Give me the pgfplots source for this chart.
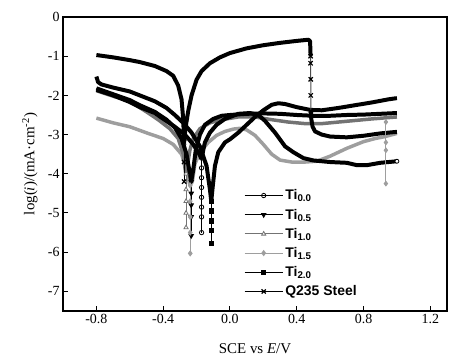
\documentclass[border=0pt]{standalone}
\usepackage{fontspec}
\setmainfont{Liberation Serif}
\newfontfamily\arialfont{Liberation Sans}
\usepackage{pgfplots}
\pgfplotsset{compat=1.18}
\definecolor{tten}{gray}{0.45}
\definecolor{tfif}{gray}{0.62}
\begin{document}
\begin{tikzpicture}
\begin{axis}[
  scale only axis, width=384bp, height=294bp,
  xmin=-1, xmax=1.3, ymin=-7.5, ymax=0,
  xtick={-0.8,-0.4,0,0.4,0.8,1.2},
  ytick={-7,-6,-5,-4,-3,-2,-1,0},
  xticklabel style={/pgf/number format/.cd,fixed,fixed zerofill,precision=1},
  /pgf/number format/assume math mode=true,
  tick align=inside, xtick pos=bottom, ytick pos=left,
  major tick length=5bp,
  tick style={line width=1pt, black},
  axis line style={line width=1.2pt},
  ticklabel style={font=\fontsize{14}{16}\selectfont},
  label style={font=\fontsize{15}{17}\selectfont},
  xlabel={SCE vs \textit{E}/V},
  ylabel={log(\textit{i})/(mA·cm\textsuperscript{-2})},
  xlabel style={at={(axis description cs:0.5,-0.129)}, anchor=center},
  ylabel style={at={(axis description cs:-0.086,0.5)}, anchor=center},
  legend image code/.code={\draw[mark repeat=2,mark phase=2,#1] plot coordinates {(0bp,0bp) (19bp,0bp) (38bp,0bp)};},
  legend style={draw=none, fill=none, at={(axis cs:0.065,-4.3)}, anchor=north west,
    font=\arialfont\bfseries\fontsize{14}{16}\selectfont, row sep=3.6bp},
  legend cell align=left,
]
% ---------- main thick curves ----------
% Ti1.5 (light gray)
\addplot[forget plot, tfif, line width=3.5pt, line join=round] coordinates {
(-0.8,-2.58) (-0.7,-2.7) (-0.6,-2.8) (-0.49,-2.97) (-0.4,-3.1) (-0.34,-3.25) (-0.29,-3.5) (-0.26,-3.9) (-0.24,-4.3)
(-0.225,-4.2) (-0.21,-3.75) (-0.18,-3.45) (-0.13,-3.2) (-0.08,-3.02) (-0.03,-2.92) (0.02,-2.86) (0.06,-2.84) (0.1,-2.88)
(0.15,-3.02) (0.2,-3.25) (0.25,-3.5) (0.3,-3.65) (0.37,-3.7) (0.45,-3.7) (0.52,-3.68) (0.6,-3.55) (0.7,-3.35) (0.8,-3.18)
(0.87,-3.1) (0.93,-3.05) (1.0,-2.97)};
% Ti1.0 (gray)
\addplot[forget plot, tten, line width=3.5pt, line join=round] coordinates {
(-0.8,-1.88) (-0.7,-2.02) (-0.6,-2.15) (-0.5,-2.42) (-0.43,-2.62) (-0.36,-2.85) (-0.31,-3.1) (-0.28,-3.5) (-0.265,-4.0)
(-0.255,-3.8) (-0.24,-3.4) (-0.22,-3.1) (-0.18,-2.85) (-0.12,-2.7) (-0.05,-2.62) (0.05,-2.55) (0.15,-2.55) (0.25,-2.62)
(0.35,-2.68) (0.45,-2.72) (0.55,-2.72) (0.65,-2.68) (0.75,-2.64) (0.85,-2.6) (1.0,-2.55)};
% Ti0.0
\addplot[forget plot, black, line width=4pt, line join=round] coordinates {
(-0.8,-1.86) (-0.7,-2.0) (-0.6,-2.17) (-0.54,-2.3) (-0.45,-2.45) (-0.4,-2.6) (-0.33,-2.8) (-0.27,-3.0) (-0.22,-3.25)
(-0.19,-3.45) (-0.172,-3.6) (-0.165,-3.5) (-0.15,-3.2) (-0.12,-2.95) (-0.08,-2.75) (-0.03,-2.6) (0.05,-2.47) (0.12,-2.45)
(0.17,-2.5) (0.21,-2.65) (0.27,-2.95) (0.33,-3.3) (0.38,-3.45) (0.44,-3.6) (0.5,-3.66) (0.6,-3.7) (0.7,-3.72)
(0.76,-3.78) (0.82,-3.78) (0.9,-3.72) (1.0,-3.68)};
% Ti0.5
\addplot[forget plot, black, line width=4pt, line join=round] coordinates {
(-0.8,-1.82) (-0.7,-1.97) (-0.6,-2.12) (-0.54,-2.25) (-0.45,-2.42) (-0.38,-2.62) (-0.33,-2.82) (-0.29,-3.1) (-0.26,-3.5)
(-0.24,-4.0) (-0.232,-4.2) (-0.22,-3.9) (-0.205,-3.4) (-0.18,-3.0) (-0.15,-2.75) (-0.1,-2.6) (-0.05,-2.52) (0.0,-2.5)
(0.1,-2.47) (0.2,-2.46) (0.3,-2.47) (0.4,-2.5) (0.5,-2.52) (0.6,-2.52) (0.7,-2.5) (0.8,-2.49) (0.9,-2.47) (1.0,-2.45)};
% Ti2.0
\addplot[forget plot, black, line width=4pt, line join=round] coordinates {
(-0.8,-1.52) (-0.79,-1.66) (-0.77,-1.72) (-0.7,-1.8) (-0.6,-1.9) (-0.54,-2.0) (-0.45,-2.15) (-0.38,-2.32) (-0.33,-2.5)
(-0.28,-2.7) (-0.23,-2.95) (-0.18,-3.3) (-0.14,-3.8) (-0.12,-4.4) (-0.112,-4.7) (-0.105,-4.4) (-0.09,-3.8) (-0.07,-3.45)
(-0.03,-3.2) (0.0,-3.12) (0.05,-2.95) (0.1,-2.75) (0.15,-2.55) (0.2,-2.38) (0.25,-2.24) (0.29,-2.2) (0.33,-2.22)
(0.4,-2.3) (0.48,-2.37) (0.55,-2.38) (0.65,-2.32) (0.75,-2.25) (0.85,-2.18) (0.95,-2.1) (1.0,-2.07)};
% Q235 part 1
\addplot[forget plot, black, line width=4pt, line join=round] coordinates {
(-0.8,-0.97) (-0.7,-1.03) (-0.6,-1.1) (-0.54,-1.15) (-0.45,-1.25) (-0.38,-1.38) (-0.34,-1.5) (-0.31,-1.75) (-0.29,-2.1)
(-0.28,-2.6) (-0.275,-3.2) (-0.265,-2.8) (-0.25,-2.4) (-0.23,-2.0) (-0.2,-1.6) (-0.17,-1.38) (-0.12,-1.18) (-0.06,-1.03)
(0.0,-0.92) (0.1,-0.8) (0.2,-0.72) (0.3,-0.66) (0.4,-0.61) (0.47,-0.58) (0.48,-0.62) (0.483,-1.0)};
% Q235 part 2
\addplot[forget plot, black, line width=4pt, line join=round] coordinates {
(0.485,-2.4) (0.487,-2.6) (0.495,-2.8) (0.51,-2.92) (0.55,-3.0) (0.6,-3.05) (0.7,-3.07) (0.8,-3.03) (0.9,-2.97) (1.0,-2.93)};
% Ti1.5 spike near 0.93
\addplot[forget plot, tfif, line width=1pt, mark=diamond*, mark size=2.2pt, mark options={fill=tfif}] coordinates {
(0.934,-2.68) (0.934,-3.2) (0.934,-3.4) (0.934,-4.25)};
% Ti0.0 end circle
\addplot[forget plot, only marks, black, mark=*, mark size=2pt, mark options={fill=white, line width=0.8pt}] coordinates {(1.0,-3.68)};
% ---------- spikes (legend) ----------
\addplot[black, line width=1pt, mark=o, mark size=2.2pt, mark options={fill=white, line width=0.8pt}] coordinates {
(-0.17,-3.6) (-0.17,-3.85) (-0.17,-4.1) (-0.17,-4.35) (-0.17,-4.6) (-0.17,-4.85) (-0.17,-5.1) (-0.17,-5.5)};
\addlegendentry{Ti\textsubscript{0.0}}
\addplot[black, line width=1pt, mark=triangle*, mark size=2.4pt, mark options={rotate=180, fill=black}] coordinates {
(-0.232,-4.2) (-0.232,-4.5) (-0.232,-4.8) (-0.232,-5.1) (-0.232,-5.58)};
\addlegendentry{Ti\textsubscript{0.5}}
\addplot[tten, line width=1pt, mark=triangle*, mark size=2.4pt, mark options={fill=white, line width=0.8pt}] coordinates {
(-0.263,-4.0) (-0.263,-4.4) (-0.263,-4.7) (-0.263,-5.0) (-0.263,-5.37)};
\addlegendentry{Ti\textsubscript{1.0}}
\addplot[tfif, line width=1pt, mark=diamond*, mark size=2.4pt, mark options={fill=tfif}] coordinates {
(-0.238,-4.3) (-0.238,-4.7) (-0.238,-5.1) (-0.238,-5.5) (-0.238,-6.03)};
\addlegendentry{Ti\textsubscript{1.5}}
\addplot[black, line width=1.4pt, mark=square*, mark size=2pt, mark options={fill=black}] coordinates {
(-0.112,-4.7) (-0.112,-4.95) (-0.112,-5.2) (-0.112,-5.45) (-0.112,-5.78)};
\addlegendentry{Ti\textsubscript{2.0}}
\addplot[black, line width=1pt, mark=x, mark size=3pt, mark options={line width=1.2pt}] coordinates {
(-0.275,-3.2) (-0.275,-3.7) (-0.275,-4.2)};
\addlegendentry{Q235 Steel}
% Q235 passivation drop thin segment
\addplot[forget plot, black!70, line width=1pt, mark=x, mark size=3pt, mark options={black, line width=1.2pt}] coordinates {
(0.483,-1.0) (0.483,-1.18) (0.484,-1.59) (0.484,-2.0) (0.485,-2.4)};
\coordinate (sw) at (rel axis cs:0,0);
\coordinate (ne) at (rel axis cs:1,1);
\end{axis}
\pgfresetboundingbox
\path ([shift={(-63bp,-51bp)}]sw) rectangle ([shift={(24bp,17bp)}]ne);
\end{tikzpicture}
\end{document}
